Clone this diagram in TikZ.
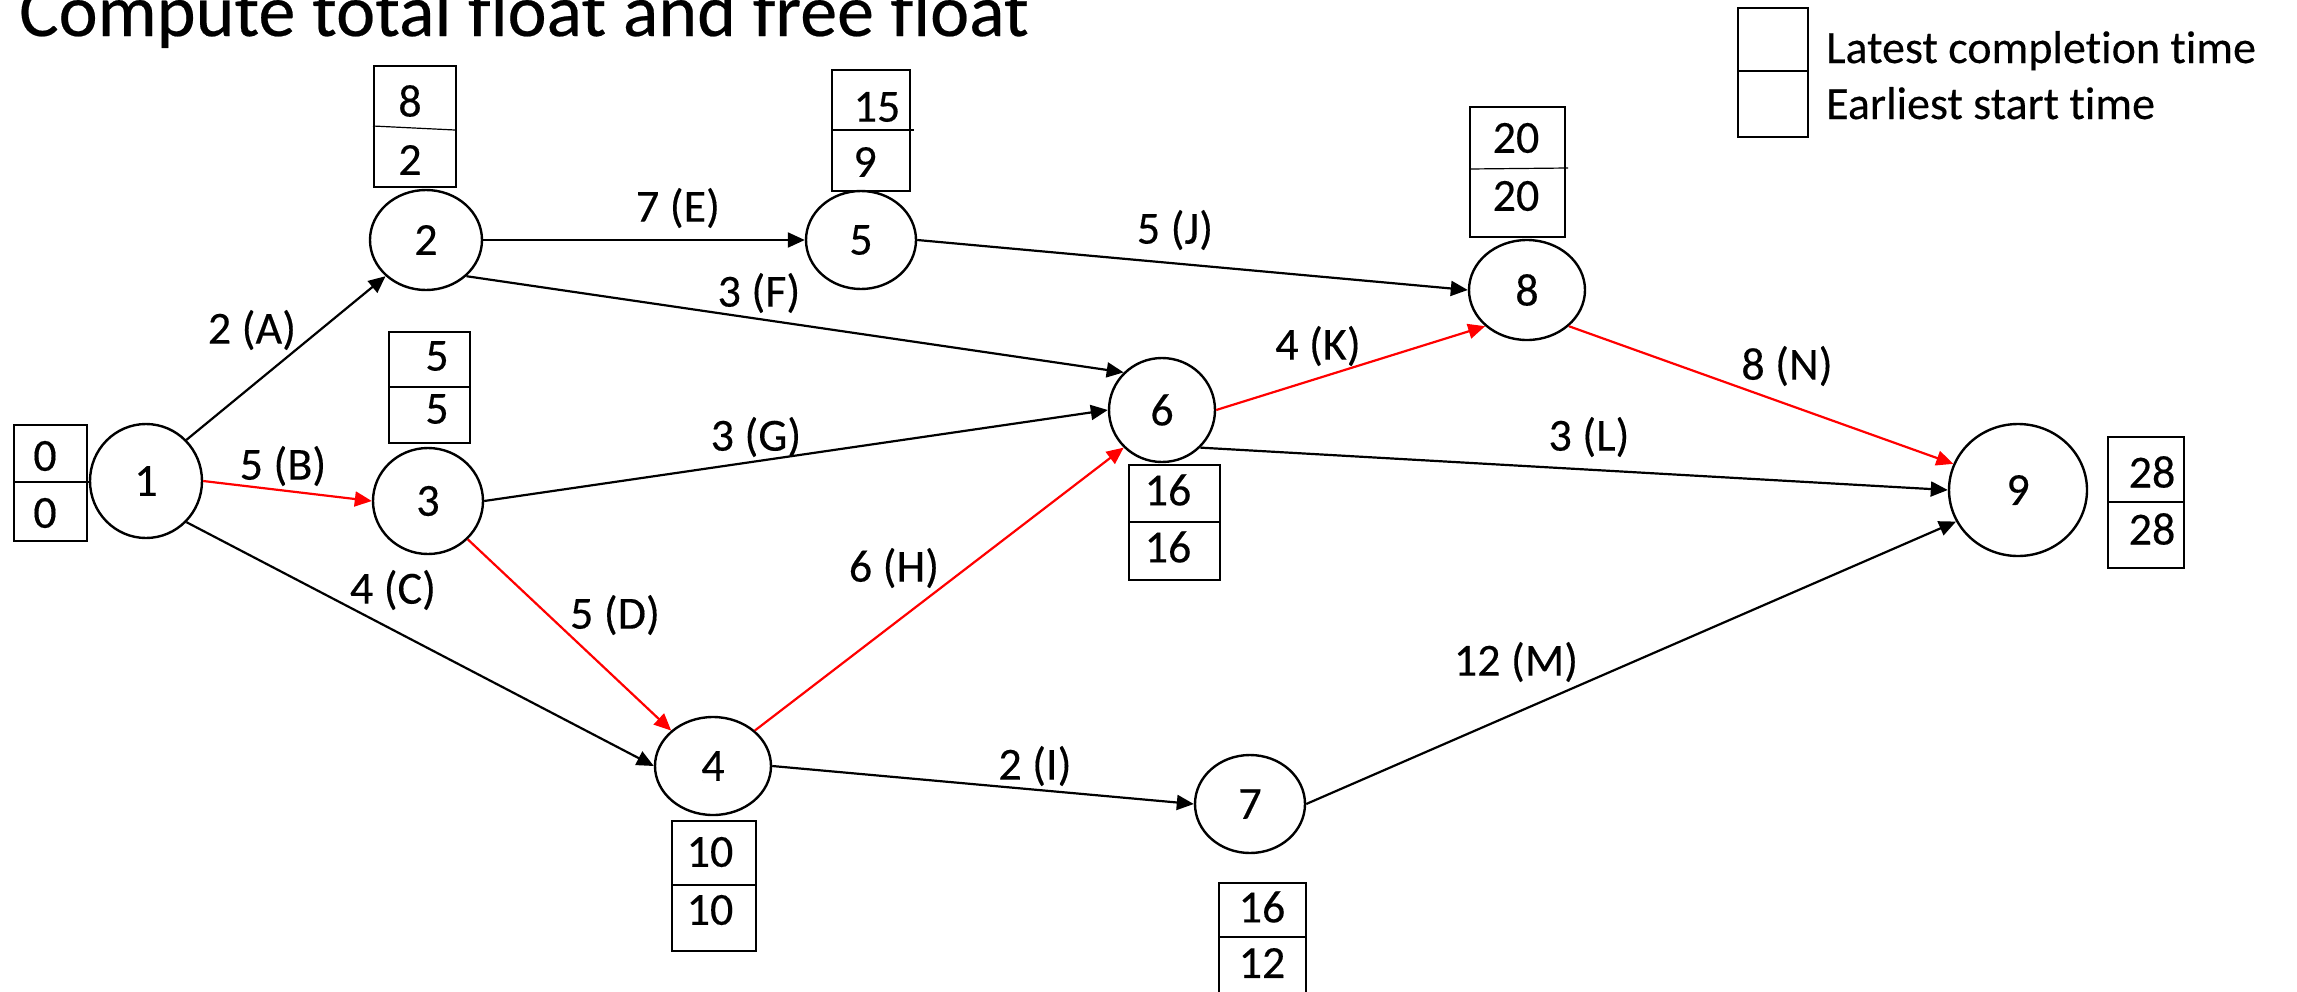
\documentclass[tikz,border=0pt]{standalone}
\usepackage{fontspec}
\setmainfont[FakeBold=0.3,Ligatures={NoCommon,NoRare,NoContextual}]{Carlito}
\usetikzlibrary{shapes.geometric,arrows.meta}
\begin{document}
\begin{tikzpicture}[x=1pt,y=-1pt,
  ev/.style={ellipse,draw,line width=2.4pt,inner sep=0pt,font=\fontsize{46}{50}\selectfont},
  tbox/.style={draw,line width=2.4pt,inner sep=0pt,anchor=north west},
  num/.style={inner sep=0pt,font=\fontsize{46}{50}\selectfont},
  lbl/.style={inner sep=0pt,font=\fontsize{46}{50}\selectfont},
  arr/.style={line width=2.2pt,-{Triangle[length=17pt,width=15pt]}},
  crit/.style={arr,draw=red,fill=red},
  divl/.style={line width=1.2pt},
]
\useasboundingbox (0,0) rectangle (2297,991);
\clip (0,0) rectangle (2297,991);

% title
\node[anchor=base west,inner sep=0pt,font=\fontsize{74}{80}\selectfont] (title) at (19,36) {Compute total float and free float};

% legend
\node[tbox,minimum width=70pt,minimum height=129pt] (leg) at (1737,7) {};
\draw[divl] (1737,71) -- (1807,71);
\node[lbl,anchor=base west] (legL) at (1826,63) {Latest completion time};
\node[lbl,anchor=base west] (legE) at (1826,119) {Earliest start time};

% events
\node[ev,minimum width=112pt,minimum height=114pt] (1) at (146,481) {1};
\node[ev,minimum width=112pt,minimum height=100pt] (2) at (426,240) {2};
\node[ev,minimum width=110pt,minimum height=106pt] (3) at (428,501) {3};
\node[ev,minimum width=116pt,minimum height=98pt] (4) at (713,766) {4};
\node[ev,minimum width=110pt,minimum height=98pt] (5) at (861,240) {5};
\node[ev,minimum width=106pt,minimum height=104pt] (6) at (1162,410) {6};
\node[ev,minimum width=110pt,minimum height=98pt] (7) at (1250,804) {7};
\node[ev,minimum width=116pt,minimum height=100pt] (8) at (1527,290) {8};
\node[ev,minimum width=138pt,minimum height=132pt] (9) at (2018,490) {9};

% time boxes
\node[tbox,minimum width=73pt,minimum height=116pt] (b1) at (13,424) {};
\draw[divl] (13,482) -- (90,482);
\node[num] (b1t) at (45,456) {0};
\node[num] (b1b) at (45,513) {0};

\node[tbox,minimum width=82pt,minimum height=121pt] (b2) at (373,65) {};
\draw[divl] (373,126) -- (455,130);
\node[num] (b2t) at (410,101) {8};
\node[num] (b2b) at (410,160) {2};

\node[tbox,minimum width=81pt,minimum height=111pt] (b3) at (388,331) {};
\draw[divl] (388,387) -- (469,387);
\node[num] (b3t) at (437,356) {5};
\node[num] (b3b) at (437,409) {5};

\node[tbox,minimum width=84pt,minimum height=130pt] (b4) at (671,820) {};
\draw[divl] (671,885) -- (755,885);
\node[num] (b4t) at (710,852) {10};
\node[num] (b4b) at (710,910) {10};

\node[tbox,minimum width=78pt,minimum height=121pt] (b5) at (831,69) {};
\draw[divl] (831,130) -- (914,130);
\node[num] (b5t) at (877,107) {15};
\node[num] (b5b) at (865,162) {9};

\node[tbox,minimum width=91pt,minimum height=115pt] (b6) at (1128,464) {};
\draw[divl] (1128,522) -- (1219,522);
\node[num] (b6t) at (1168,490) {16};
\node[num] (b6b) at (1168,547) {16};

\node[tbox,minimum width=87pt,minimum height=130pt] (b7) at (1218,882) {};
\draw[divl] (1218,937) -- (1305,937);
\node[num] (b7t) at (1262,907) {16};
\node[num] (b7b) at (1262,963) {12};

\node[tbox,minimum width=95pt,minimum height=130pt] (b8) at (1469,106) {};
\draw[divl] (1469,169) -- (1568,168);
\node[num] (b8t) at (1516,138) {20};
\node[num] (b8b) at (1516,196) {20};

\node[tbox,minimum width=76pt,minimum height=131pt] (b9) at (2107,436) {};
\draw[divl] (2107,502) -- (2183,502);
\node[num] (b9t) at (2152,472) {28};
\node[num] (b9b) at (2152,529) {28};

% activities
\draw[arr] (1.north east) -- (2.south west);
\draw[crit] (1.east) -- (3.west);
\draw[arr] (1.south east) -- (4.west);
\draw[crit] (3.south east) -- (4.north west);
\draw[arr] (2.east) -- (5.west);
\draw[arr] (2.south east) -- (6.north west);
\draw[arr] (3.east) -- (6.west);
\draw[crit] (4.north east) -- (6.south west);
\draw[arr] (4.east) -- (7.west);
\draw[arr] (5.east) -- (8.west);
\draw[crit] (6.east) -- (8.south west);
\draw[arr] (6.south east) -- (9.west);
\draw[arr] (7.east) -- (9.207);
\draw[crit] (8.south east) -- (9.158);

% activity labels
\node[lbl] (lA) at (252,330) {2 (A)};
\node[lbl] (lB) at (283,466) {5 (B)};
\node[lbl] (lC) at (393,590) {4 (C)};
\node[lbl] (lD) at (615,615) {5 (D)};
\node[lbl] (lE) at (678,208) {7 (E)};
\node[lbl] (lF) at (759,293) {3 (F)};
\node[lbl] (lG) at (756,437) {3 (G)};
\node[lbl] (lH) at (894,568) {6 (H)};
\node[lbl] (lI) at (1035,766) {2 (I)};
\node[lbl] (lJ) at (1175,230) {5 (J)};
\node[lbl] (lK) at (1318,346) {4 (K)};
\node[lbl] (lL) at (1589,437) {3 (L)};
\node[lbl] (lM) at (1516,662) {12 (M)};
\node[lbl] (lN) at (1787,366) {8 (N)};
\end{tikzpicture}
\end{document}
